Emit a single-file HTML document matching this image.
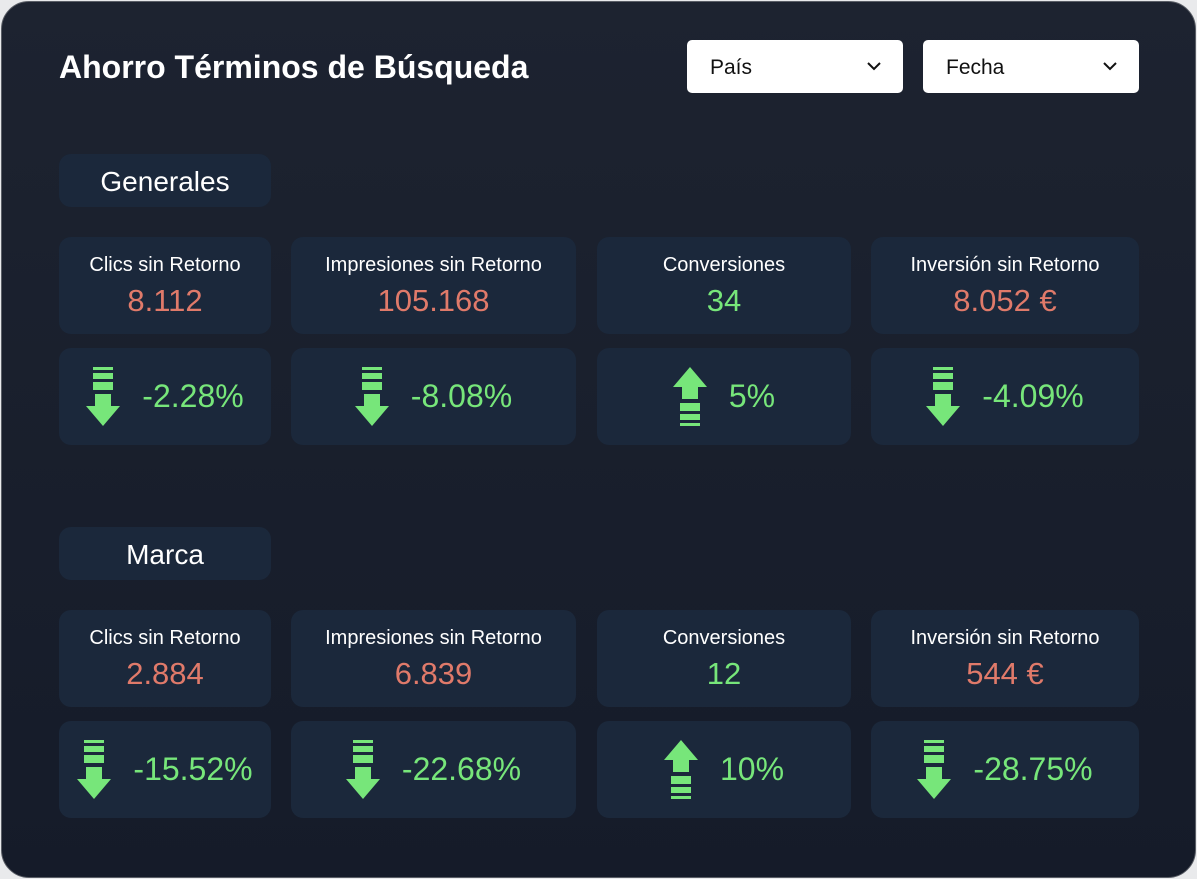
<!DOCTYPE html>
<html><head><meta charset="utf-8"><style>
*{margin:0;padding:0;box-sizing:border-box}
body{width:1197px;height:879px;background:#e9eaec;position:relative;overflow:hidden;font-family:"Liberation Sans",sans-serif}
.card{position:absolute;left:1px;top:1px;width:1195px;height:877px;border-radius:28px;background:linear-gradient(#1d2330,#151b29);border:1px solid #5a5e66}
.t{position:absolute;background:#1b283b;border-radius:12px;color:#fff;text-align:center}
.lbl{font-size:20px;position:absolute;left:0;right:0;top:17px}
.val{font-size:31px;position:absolute;left:0;right:0;top:46px}
.r{color:#e07a6a}.g{color:#77e67a}
.pct{display:flex;align-items:center;justify-content:center;gap:22px;font-size:32px;color:#77e67a;height:100%}
.dd{position:absolute;background:#fff;border-radius:5px;top:40px;height:53px;width:216px;font-size:21px;color:#111;padding:16px 0 0 23px}
.dd svg{position:absolute;right:22px;top:22px}
.sec{position:absolute;left:59px;width:212px;height:53px;background:#1b283b;border-radius:12px;color:#fff;font-size:28px;text-align:center;line-height:55px}
</style></head><body>
<div class="card"></div>
<div style="position:absolute;left:59px;top:49px;color:#fff;font-weight:bold;font-size:32px">Ahorro Términos de Búsqueda</div>
<div class="dd" style="left:687px">País<svg width="14" height="9"><path d="M1 1l6 6 6-6" stroke="#111" stroke-width="2" fill="none"/></svg></div>
<div class="dd" style="left:923px">Fecha<svg width="14" height="9"><path d="M1 1l6 6 6-6" stroke="#111" stroke-width="2" fill="none"/></svg></div>
<div class="sec" style="top:154px">Generales</div>
<div class="sec" style="top:527px">Marca</div>

<svg width="0" height="0" style="position:absolute"><defs>
<g id="dn" fill="#77e67a"><rect x="7" y="0" width="20" height="3"/><rect x="7" y="6" width="20" height="6"/><rect x="7" y="15" width="20" height="8"/><rect x="9" y="27" width="16" height="12"/><path d="M0 39h34L17 59z"/></g>
<g id="up" fill="#77e67a"><path d="M0 20h34L17 0z"/><rect x="9" y="20" width="16" height="12"/><rect x="7" y="36" width="20" height="8"/><rect x="7" y="47" width="20" height="6"/><rect x="7" y="56" width="20" height="3"/></g>
</defs></svg>

<div class="t" style="left:59px;top:237px;width:212px;height:97px"><div class="lbl">Clics sin Retorno</div><div class="val r">8.112</div></div>
<div class="t" style="left:291px;top:237px;width:285px;height:97px"><div class="lbl">Impresiones sin Retorno</div><div class="val r">105.168</div></div>
<div class="t" style="left:597px;top:237px;width:254px;height:97px"><div class="lbl">Conversiones</div><div class="val g">34</div></div>
<div class="t" style="left:871px;top:237px;width:268px;height:97px"><div class="lbl">Inversión sin Retorno</div><div class="val r">8.052 €</div></div>
<div class="t" style="left:59px;top:348px;width:212px;height:97px"><div class="pct"><svg width="34" height="59"><use href="#dn"/></svg>-2.28%</div></div>
<div class="t" style="left:291px;top:348px;width:285px;height:97px"><div class="pct"><svg width="34" height="59"><use href="#dn"/></svg>-8.08%</div></div>
<div class="t" style="left:597px;top:348px;width:254px;height:97px"><div class="pct"><svg width="34" height="59"><use href="#up"/></svg>5%</div></div>
<div class="t" style="left:871px;top:348px;width:268px;height:97px"><div class="pct"><svg width="34" height="59"><use href="#dn"/></svg>-4.09%</div></div>

<div class="t" style="left:59px;top:610px;width:212px;height:97px"><div class="lbl">Clics sin Retorno</div><div class="val r">2.884</div></div>
<div class="t" style="left:291px;top:610px;width:285px;height:97px"><div class="lbl">Impresiones sin Retorno</div><div class="val r">6.839</div></div>
<div class="t" style="left:597px;top:610px;width:254px;height:97px"><div class="lbl">Conversiones</div><div class="val g">12</div></div>
<div class="t" style="left:871px;top:610px;width:268px;height:97px"><div class="lbl">Inversión sin Retorno</div><div class="val r">544 €</div></div>
<div class="t" style="left:59px;top:721px;width:212px;height:97px"><div class="pct"><svg width="34" height="59"><use href="#dn"/></svg>-15.52%</div></div>
<div class="t" style="left:291px;top:721px;width:285px;height:97px"><div class="pct"><svg width="34" height="59"><use href="#dn"/></svg>-22.68%</div></div>
<div class="t" style="left:597px;top:721px;width:254px;height:97px"><div class="pct"><svg width="34" height="59"><use href="#up"/></svg>10%</div></div>
<div class="t" style="left:871px;top:721px;width:268px;height:97px"><div class="pct"><svg width="34" height="59"><use href="#dn"/></svg>-28.75%</div></div>
</body></html>
